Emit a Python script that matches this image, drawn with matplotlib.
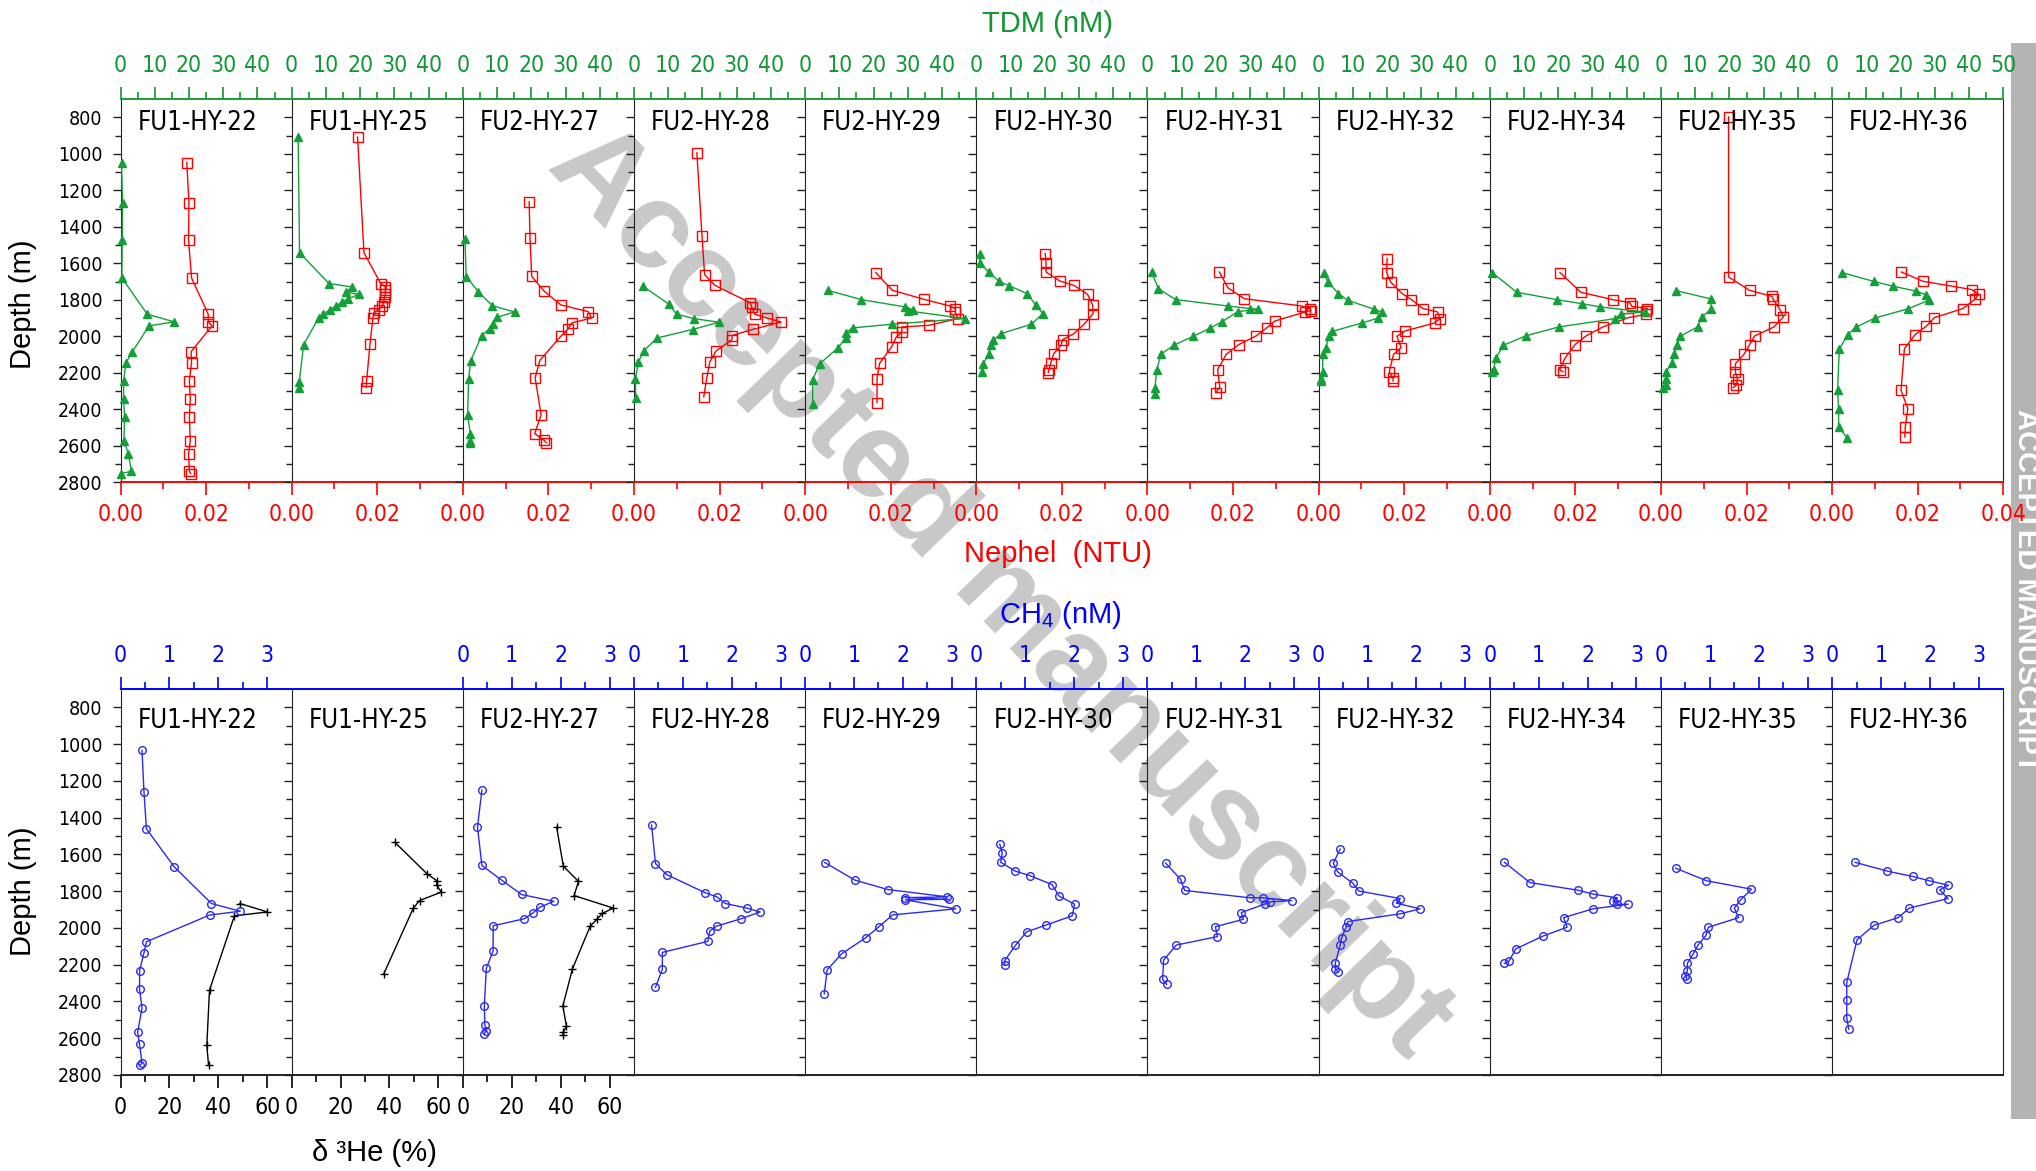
import matplotlib
matplotlib.use('Agg')
import matplotlib.pyplot as plt
from matplotlib.patches import Rectangle

plt.rcParams['font.family'] = ['DejaVu Sans']
plt.rcParams['font.stretch'] = 'condensed'
plt.rcParams['mathtext.fontset'] = 'custom'
plt.rcParams['mathtext.rm'] = 'Liberation Sans'
plt.rcParams['mathtext.it'] = 'Liberation Sans:italic'

# ---------------- data ----------------
stations = ['FU1-HY-22', 'FU1-HY-25', 'FU2-HY-27', 'FU2-HY-28', 'FU2-HY-29', 'FU2-HY-30',
            'FU2-HY-31', 'FU2-HY-32', 'FU2-HY-34', 'FU2-HY-35', 'FU2-HY-36']

tdm_depth = {
    'FU1-HY-22': [1048, 1271, 1474, 1680, 1879, 1921, 1943, 2084, 2144, 2243, 2343, 2444, 2573, 2643, 2740, 2752],
    'FU1-HY-25': [908, 1542, 1711, 1730, 1759, 1770, 1795, 1812, 1832, 1856, 1876, 1898, 2046, 2252, 2281],
    'FU2-HY-27': [1465, 1673, 1755, 1832, 1867, 1896, 1931, 1958, 1996, 2135, 2232, 2431, 2535, 2573, 2585],
    'FU2-HY-28': [1724, 1823, 1879, 1903, 1923, 1963, 2009, 2078, 2140, 2236, 2336],
    'FU2-HY-29': [1748, 1799, 1839, 1854, 1861, 1903, 1934, 1954, 1980, 2007, 2062, 2150, 2237, 2369],
    'FU2-HY-30': [1547, 1596, 1648, 1699, 1722, 1766, 1826, 1876, 1934, 1985, 2022, 2047, 2095, 2150, 2195],
    'FU2-HY-31': [1648, 1739, 1799, 1834, 1848, 1852, 1865, 1921, 1954, 2000, 2049, 2099, 2186, 2281, 2314],
    'FU2-HY-32': [1651, 1702, 1766, 1803, 1852, 1867, 1900, 1927, 1973, 1998, 2062, 2099, 2195, 2236, 2245],
    'FU2-HY-34': [1651, 1759, 1799, 1821, 1839, 1867, 1879, 1903, 1949, 1998, 2049, 2119, 2183, 2195],
    'FU2-HY-35': [1750, 1795, 1850, 1896, 1949, 2000, 2049, 2099, 2144, 2195, 2236, 2268, 2281],
    'FU2-HY-36': [1651, 1699, 1726, 1752, 1772, 1803, 1850, 1900, 1949, 1991, 2071, 2296, 2396, 2497, 2557],
}
tdm_val = {
    'FU1-HY-22': [0.3, 0.6, 0.5, 0.4, 7.8, 15.7, 8.3, 3.5, 1.6, 0.9, 0.9, 1.2, 1.0, 2.3, 3.2, 0.1],
    'FU1-HY-25': [1.9, 2.3, 10.9, 17.7, 15.8, 19.6, 16.6, 14.8, 13.0, 11.2, 9.2, 7.9, 3.5, 2.2, 2.1],
    'FU2-HY-27': [0.6, 1.0, 4.5, 8.6, 15.1, 10.0, 8.7, 7.8, 5.5, 2.3, 1.7, 1.4, 2.2, 2.0, 2.1],
    'FU2-HY-28': [2.5, 10.1, 12.5, 17.5, 24.8, 17.1, 6.8, 2.9, 1.3, 0.4, 0.5],
    'FU2-HY-29': [6.6, 16.4, 29.2, 31.4, 30.1, 46.7, 25.3, 13.9, 11.9, 11.9, 9.7, 4.3, 2.2, 2.2],
    'FU2-HY-30': [1.2, 1.0, 3.6, 6.6, 9.5, 14.8, 17.3, 19.4, 16.1, 7.3, 4.8, 4.3, 3.6, 2.1, 1.6],
    'FU2-HY-31': [1.2, 3.2, 8.2, 23.5, 29.9, 32.3, 26.4, 21.7, 18.4, 13.4, 7.7, 3.9, 2.7, 2.2, 2.1],
    'FU2-HY-32': [1.6, 2.7, 5.8, 8.5, 16.3, 18.4, 17.4, 12.7, 4.0, 3.0, 2.1, 1.2, 1.2, 0.8, 0.8],
    'FU2-HY-34': [0.7, 7.9, 19.5, 26.8, 32.2, 45.3, 38.2, 36.7, 20.1, 10.5, 4.0, 1.8, 1.1, 0.7],
    'FU2-HY-35': [4.5, 14.5, 14.7, 11.9, 10.7, 5.6, 4.7, 3.8, 3.2, 1.5, 1.4, 1.4, 0.7],
    'FU2-HY-36': [2.9, 12.1, 17.9, 24.4, 27.4, 28.2, 22.1, 12.5, 7.1, 4.5, 2.1, 1.6, 1.9, 1.9, 4.4],
}
neph_depth = {
    'FU1-HY-22': [1048, 1271, 1474, 1680, 1879, 1921, 1943, 2084, 2144, 2243, 2343, 2444, 2573, 2643, 2740, 2752],
    'FU1-HY-25': [908, 1542, 1711, 1730, 1748, 1766, 1784, 1812, 1836, 1854, 1872, 1898, 2044, 2247, 2281],
    'FU2-HY-27': [1264, 1463, 1671, 1753, 1828, 1865, 1900, 1927, 1960, 2000, 2132, 2228, 2431, 2533, 2570, 2583],
    'FU2-HY-28': [995, 1452, 1662, 1721, 1817, 1839, 1879, 1900, 1922, 1962, 1996, 2018, 2082, 2141, 2230, 2332],
    'FU2-HY-29': [1651, 1748, 1797, 1834, 1848, 1867, 1903, 1940, 1949, 1978, 2004, 2058, 2148, 2232, 2363],
    'FU2-HY-30': [1547, 1596, 1648, 1697, 1721, 1770, 1830, 1876, 1934, 1989, 2018, 2049, 2095, 2146, 2183, 2199],
    'FU2-HY-31': [1648, 1734, 1794, 1834, 1850, 1860, 1867, 1916, 1953, 1998, 2046, 2099, 2183, 2278, 2309],
    'FU2-HY-32': [1574, 1651, 1702, 1766, 1799, 1848, 1867, 1903, 1927, 1971, 2000, 2062, 2099, 2195, 2227, 2245],
    'FU2-HY-34': [1651, 1759, 1799, 1816, 1836, 1848, 1863, 1879, 1898, 1949, 1998, 2046, 2119, 2183, 2195],
    'FU2-HY-35': [798, 1675, 1748, 1781, 1795, 1854, 1894, 1949, 1998, 2046, 2099, 2150, 2195, 2236, 2268, 2281],
    'FU2-HY-36': [1648, 1699, 1724, 1744, 1770, 1797, 1848, 1898, 1945, 1991, 2068, 2296, 2396, 2497, 2552],
}
neph_val = {
    'FU1-HY-22': [0.0155, 0.0160, 0.0159, 0.0166, 0.0205, 0.0205, 0.0214, 0.0165, 0.0166, 0.0161, 0.0163, 0.0161, 0.0163, 0.0159, 0.0161, 0.0164],
    'FU1-HY-25': [0.0154, 0.0169, 0.0208, 0.0219, 0.0219, 0.0219, 0.0217, 0.0215, 0.0212, 0.0203, 0.0192, 0.0190, 0.0183, 0.0175, 0.0174],
    'FU2-HY-27': [0.0155, 0.0157, 0.0161, 0.0190, 0.0229, 0.0293, 0.0301, 0.0254, 0.0246, 0.0229, 0.0180, 0.0169, 0.0183, 0.0168, 0.0190, 0.0195],
    'FU2-HY-28': [0.0147, 0.0159, 0.0165, 0.0189, 0.0272, 0.0275, 0.0282, 0.0311, 0.0344, 0.0278, 0.0229, 0.0229, 0.0191, 0.0177, 0.0170, 0.0163],
    'FU2-HY-29': [0.0165, 0.0204, 0.0277, 0.0338, 0.0351, 0.0351, 0.0357, 0.0289, 0.0226, 0.0226, 0.0213, 0.0202, 0.0174, 0.0168, 0.0168],
    'FU2-HY-30': [0.0161, 0.0163, 0.0163, 0.0195, 0.0228, 0.0260, 0.0272, 0.0273, 0.0252, 0.0226, 0.0202, 0.0198, 0.0181, 0.0174, 0.0170, 0.0168],
    'FU2-HY-31': [0.0168, 0.0188, 0.0226, 0.0361, 0.0379, 0.0382, 0.0368, 0.0298, 0.0279, 0.0254, 0.0213, 0.0184, 0.0164, 0.0169, 0.0160],
    'FU2-HY-32': [0.0160, 0.0159, 0.0168, 0.0195, 0.0217, 0.0244, 0.0278, 0.0284, 0.0271, 0.0202, 0.0183, 0.0193, 0.0175, 0.0165, 0.0174, 0.0174],
    'FU2-HY-34': [0.0164, 0.0213, 0.0287, 0.0327, 0.0332, 0.0368, 0.0366, 0.0366, 0.0324, 0.0264, 0.0225, 0.0199, 0.0176, 0.0163, 0.0171],
    'FU2-HY-35': [0.0158, 0.0158, 0.0207, 0.0259, 0.0262, 0.0278, 0.0286, 0.0264, 0.0219, 0.0207, 0.0194, 0.0174, 0.0174, 0.0179, 0.0176, 0.0169],
    'FU2-HY-36': [0.0162, 0.0213, 0.0277, 0.0326, 0.0343, 0.0334, 0.0306, 0.0239, 0.0220, 0.0194, 0.0169, 0.0161, 0.0177, 0.0171, 0.0170],
}
ch4_depth = {
    'FU1-HY-22': [1034, 1260, 1461, 1668, 1867, 1909, 1930, 2075, 2135, 2232, 2334, 2435, 2568, 2634, 2736, 2746],
    'FU1-HY-25': [],
    'FU2-HY-27': [1250, 1451, 1660, 1741, 1818, 1855, 1888, 1919, 1950, 1988, 2124, 2220, 2423, 2526, 2560, 2576],
    'FU2-HY-28': [1440, 1650, 1710, 1809, 1830, 1867, 1892, 1913, 1950, 1990, 2017, 2073, 2133, 2224, 2323],
    'FU2-HY-29': [1644, 1740, 1791, 1831, 1835, 1844, 1847, 1896, 1929, 1993, 2053, 2140, 2228, 2359],
    'FU2-HY-30': [1544, 1592, 1643, 1691, 1716, 1764, 1826, 1871, 1934, 1985, 2021, 2095, 2178, 2199],
    'FU2-HY-31': [1647, 1736, 1796, 1836, 1836, 1851, 1858, 1869, 1916, 1953, 1993, 2047, 2093, 2175, 2280, 2307],
    'FU2-HY-32': [1571, 1648, 1695, 1757, 1799, 1840, 1865, 1896, 1923, 1965, 1996, 2054, 2095, 2193, 2224, 2238],
    'FU2-HY-34': [1643, 1753, 1795, 1816, 1836, 1855, 1871, 1871, 1896, 1944, 1996, 2044, 2114, 2182, 2193],
    'FU2-HY-35': [1675, 1743, 1789, 1847, 1892, 1944, 1996, 2041, 2093, 2141, 2193, 2234, 2259, 2276],
    'FU2-HY-36': [1643, 1691, 1720, 1743, 1768, 1793, 1840, 1892, 1944, 1985, 2064, 2296, 2394, 2489, 2551],
}
ch4_val = {
    'FU1-HY-22': [0.44, 0.48, 0.53, 1.10, 1.86, 2.45, 1.82, 0.53, 0.48, 0.39, 0.39, 0.44, 0.35, 0.39, 0.44, 0.40],
    'FU1-HY-25': [],
    'FU2-HY-27': [0.39, 0.30, 0.39, 0.80, 1.20, 1.86, 1.57, 1.43, 1.26, 0.62, 0.62, 0.48, 0.44, 0.45, 0.48, 0.44],
    'FU2-HY-28': [0.36, 0.44, 0.67, 1.46, 1.69, 1.87, 2.31, 2.58, 2.19, 1.69, 1.55, 1.51, 0.58, 0.58, 0.44],
    'FU2-HY-29': [0.40, 1.02, 1.69, 2.91, 2.05, 2.94, 2.05, 3.08, 1.79, 1.51, 1.24, 0.75, 0.45, 0.39],
    'FU2-HY-30': [0.48, 0.53, 0.50, 0.80, 1.10, 1.55, 1.69, 2.01, 1.96, 1.42, 1.03, 0.80, 0.58, 0.58],
    'FU2-HY-31': [0.37, 0.68, 0.76, 2.10, 2.37, 2.95, 2.51, 2.41, 1.92, 1.96, 1.39, 1.43, 0.59, 0.33, 0.31, 0.39],
    'FU2-HY-32': [0.44, 0.30, 0.39, 0.70, 0.82, 1.67, 1.59, 2.07, 1.67, 0.60, 0.56, 0.47, 0.44, 0.34, 0.34, 0.39],
    'FU2-HY-34': [0.30, 0.82, 1.81, 2.11, 2.61, 2.52, 2.61, 2.83, 2.11, 1.51, 1.58, 1.09, 0.53, 0.39, 0.30],
    'FU2-HY-35': [0.30, 0.93, 1.85, 1.63, 1.50, 1.59, 0.97, 0.92, 0.76, 0.66, 0.54, 0.54, 0.50, 0.53],
    'FU2-HY-36': [0.47, 1.13, 1.65, 1.98, 2.38, 2.20, 2.37, 1.58, 1.35, 0.86, 0.51, 0.30, 0.30, 0.30, 0.34],
}
he_depth = {
    'FU1-HY-22': [1867, 1913, 1934, 2338, 2638, 2746],
    'FU1-HY-25': [1534, 1706, 1743, 1768, 1805, 1851, 1894, 2249],
    'FU2-HY-27': [1453, 1664, 1747, 1824, 1892, 1921, 1954, 1990, 2224, 2425, 2535, 2566, 2582],
}
he_val = {
    'FU1-HY-22': [48.8, 60.1, 46.6, 36.4, 35.3, 36.0],
    'FU1-HY-25': [42.2, 55.4, 59.4, 59.4, 61.2, 52.3, 49.7, 37.7],
    'FU2-HY-27': [38.4, 41.1, 47.3, 45.5, 61.6, 57.0, 54.8, 52.1, 44.8, 40.9, 42.4, 41.1, 40.9],
}

depth_ticks = list(range(800, 2801, 200))
depth_minor = list(range(900, 2800, 200))
tdm_ticks = [0, 10, 20, 30, 40]
tdm_minor = [5, 15, 25, 35, 45]
neph_ticks = [0.0, 0.02]
neph_minor = [0.01, 0.03]
ch4_ticks = [0, 1, 2, 3]
ch4_minor = [0.5, 1.5, 2.5]
he_ticks = [0, 20, 40, 60]
he_minor = [10, 30, 50]

# ---------------- styling ----------------
W, H = 2036, 1171
fig = plt.figure(figsize=(W / 100, H / 100), dpi=100)
X0, PW = 120.5, 171.16
TOP = (99.0, 482.3)
BOT = (689.0, 1075.0)

GREEN = '#109632'
GREEN_L = '#14a038'
RED = '#ff0000'
BLUE = '#0000ff'
BLUE_L = '#2a2af2'
DARK = '#222222'
LW = 1.0
XT = 16.5
YT = 14
TITLE = 18.5
LAB = 21


def rect(i, tb):
    top, bot = tb
    return [(X0 + i * PW) / W, 1 - bot / H, PW / W, (bot - top) / H]


def style_y(ax, first):
    ax.set_ylim(2800, 700)
    ax.set_yticks(depth_ticks)
    ax.set_yticks(depth_minor, minor=True)
    ax.tick_params(axis='y', which='major', direction='out', length=6, width=1.0,
                   color=DARK, labelsize=YT, pad=7, labelleft=first, left=True)
    ax.tick_params(axis='y', which='minor', direction='out', length=4, width=1.0, color=DARK)


def set_xt(ax, major, minor, labels, color, pad, length=9):
    ax.set_xticks(major)
    ax.set_xticklabels(labels)
    ax.set_xticks(minor, minor=True)
    ax.tick_params(axis='x', which='major', direction='out', length=length, width=1.2,
                   color=color, labelcolor=color, labelsize=XT, pad=pad)
    ax.tick_params(axis='x', which='minor', direction='out', length=5, width=1.2, color=color)


n = len(stations)
for i, st in enumerate(stations):
    last = (i == n - 1)
    first = (i == 0)

    # ---------- top row: Nephel (bottom) + TDM (top) ----------
    ax = fig.add_axes(rect(i, TOP))
    ax.set_facecolor('none')
    ax.set_xlim(0, 0.04)
    style_y(ax, first)
    nt = neph_ticks + ([0.04] if last else [])
    set_xt(ax, nt, neph_minor, ['%.2f' % t for t in nt], RED, pad=6)
    ax.spines['top'].set_visible(False)
    ax.spines['right'].set_visible(last)
    ax.spines['right'].set_color(DARK)
    ax.spines['left'].set_color(DARK)
    ax.spines['bottom'].set_color(RED)
    ax.spines['bottom'].set_linewidth(1.4)
    ax.plot(neph_val[st], neph_depth[st], color=RED, lw=LW, marker='s', ms=6.5,
            mfc='none', mec=RED, mew=1.0, clip_on=False, zorder=3)

    axt = ax.twiny()
    axt.set_xlim(0, 50)
    tt = tdm_ticks + ([50] if last else [])
    set_xt(axt, tt, tdm_minor, [str(t) for t in tt], GREEN, pad=7)
    for s in ['left', 'right', 'bottom']:
        axt.spines[s].set_visible(False)
    axt.spines['top'].set_color(GREEN_L)
    axt.spines['top'].set_linewidth(1.4)
    axt.plot(tdm_val[st], tdm_depth[st], color=GREEN_L, lw=LW, marker='^', ms=5.5,
             mfc=GREEN_L, mec=GREEN_L, clip_on=False, zorder=3)
    ax.text(17 / PW, 1 - (122.7 - TOP[0]) / (TOP[1] - TOP[0]), st, transform=ax.transAxes,
            ha='left', va='center', fontsize=TITLE, color='black')

    # ---------- bottom row: d3He (bottom) + CH4 (top) ----------
    bx = fig.add_axes(rect(i, BOT))
    bx.set_facecolor('none')
    bx.set_xlim(0, 70)
    style_y(bx, first)
    if i <= 2:
        set_xt(bx, he_ticks, he_minor, [str(t) for t in he_ticks], 'black', pad=6)
    else:
        bx.set_xticks([])
        bx.set_xticks([], minor=True)
    bx.spines['top'].set_visible(False)
    bx.spines['right'].set_visible(last)
    for s in ['left', 'right', 'bottom']:
        bx.spines[s].set_color(DARK)
    bx.spines['bottom'].set_linewidth(1.4)
    if st in he_depth:
        bx.plot(he_val[st], he_depth[st], color='black', lw=LW, marker='+', ms=6,
                mew=1.0, clip_on=False, zorder=3)

    bxt = bx.twiny()
    bxt.set_xlim(0, 3.5)
    if i != 1:
        set_xt(bxt, ch4_ticks, ch4_minor, [str(t) for t in ch4_ticks], BLUE, pad=7)
    else:
        bxt.set_xticks([])
        bxt.set_xticks([], minor=True)
    for s in ['left', 'right', 'bottom']:
        bxt.spines[s].set_visible(False)
    bxt.spines['top'].set_color(BLUE)
    bxt.spines['top'].set_linewidth(1.4)
    if len(ch4_depth[st]):
        bxt.plot(ch4_val[st], ch4_depth[st], color=BLUE_L, lw=LW, marker='o', ms=5.5,
                 mfc='none', mec=BLUE_L, mew=1.0, clip_on=False, zorder=3)
    bx.text(17 / PW, 1 - (721 - BOT[0]) / (BOT[1] - BOT[0]), st, transform=bx.transAxes,
            ha='left', va='center', fontsize=TITLE, color='black')

# ---------- axis titles ----------
lab_font = ['Liberation Sans', 'DejaVu Sans']
fig.text(1048 / W, 1 - 24 / H, 'TDM (nM)', color=GREEN, fontsize=LAB, ha='center', va='center',
         family=lab_font, stretch='normal')
fig.text(1058 / W, 1 - 554 / H, 'Nephel  (NTU)', color=RED, fontsize=LAB, ha='center', va='center',
         family=lab_font, stretch='normal')
fig.text(1060 / W, 1 - 615 / H, 'CH$_4$ (nM)', color=BLUE, fontsize=LAB, ha='center', va='center',
         family=lab_font, stretch='normal')
fig.text(374 / W, 1 - 1153 / H, 'δ ³He (%)', color='black', fontsize=LAB, ha='center', va='center',
         family=lab_font, stretch='normal')
fig.text(23 / W, 1 - 304 / H, 'Depth (m)', color='black', fontsize=LAB, rotation=90,
         ha='center', va='center', family=lab_font, stretch='normal')
fig.text(23 / W, 1 - 891 / H, 'Depth (m)', color='black', fontsize=LAB, rotation=90,
         ha='center', va='center', family=lab_font, stretch='normal')

# ---------- watermark ----------
fig.text(1000 / W, 1 - 592 / H, 'Accepted manuscript', rotation=-46, fontsize=88,
         fontweight='bold', color='#c8c8c8', ha='center', va='center', zorder=-10,
         family=lab_font, stretch='normal')
fig.patches.append(Rectangle((2011 / W, 1 - 1119 / H), 25 / W, (1119 - 43) / H,
                             transform=fig.transFigure, facecolor='#b4b4b4',
                             edgecolor='none', zorder=-6))
fig.text(2026 / W, 1 - 590 / H, 'ACCEPTED MANUSCRIPT', rotation=-90, fontsize=21,
         fontweight='bold', color='white', ha='center', va='center', zorder=-5,
         family=lab_font, stretch='normal')

fig.savefig('out.png', dpi=100)
